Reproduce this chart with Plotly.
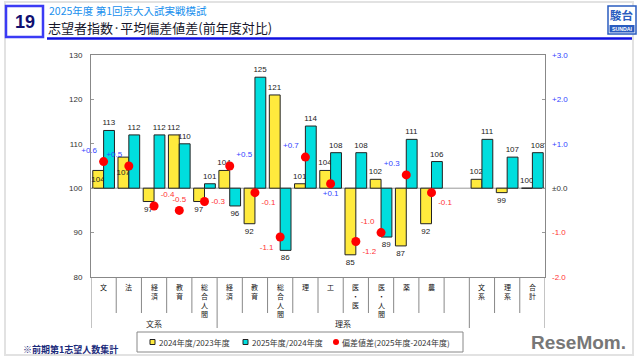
import plotly.graph_objects as go

# ---------------- data ----------------
groups = ["文系"] * 5 + ["理系"] * 10 + [""] * 3
labels = ["文", "法", "経済", "教育", "総合人間",
          "経済", "教育", "総合人間", "理", "工", "医・医", "医・人間", "薬", "農", "",
          "文系", "理系", "合計"]
idx_2024_2023 = [104, 107, 97, 112, 97, 104, 92, 121, 101, 104, 85, 102, 87, 92, None, 102, 99, 100]
idx_2025_2024 = [113, 112, 112, 110, 101, 96, 125, 86, 114, 108, 108, 89, 111, 106, None, 111, 107, 108]
dev_diff = [0.6, 0.5, -0.4, -0.5, -0.3, 0.5, -0.1, -1.1, 0.7, 0.1, -1.2, -1.0, 0.3, -0.1, None, None, None, None]
dev_label_pos = ["top left", "top left", "top right", "top center", "middle right",
                 "top right", "bottom right", "bottom left", "top left", "bottom center",
                 "bottom right", "top left", "top left", "bottom right", "top center",
                 "top center", "top center", "top center"]
yellow_label_pos = ["inside", "inside"] + ["outside"] * 16
left_ticks = [80, 90, 100, 110, 120, 130]
right_ticks = [-2, -1, 0, 1, 2, 3]
right_tick_text = ["-2.0", "-1.0", "±0.0", "+1.0", "+2.0", "+3.0"]

title_sub = "2025年度 第1回京大入試実戦模試"
title_main = "志望者指数·平均偏差値差(前年度対比)"
page_no = "19"
footnote = "※前期第1志望人数集計"
legend_names = ["2024年度/2023年度", "2025年度/2024年度", "偏差値差(2025年度-2024年度)"]

BASE = 100
keys = [f"{g}|{l}|{i}" for i, (g, l) in enumerate(zip(groups, labels))]

# ---------------- geometry helpers ----------------
W, H = 640, 364
L, R, T, B = 91, 545, 55, 277
def px(x):
    return (x - L) / (R - L)
def py(y):
    return (B - y) / (B - T)

FONT = "Liberation Sans, Noto Sans CJK JP, sans-serif"
JFONT = "Noto Sans CJK JP, sans-serif"
BLUE = "#3344ff"
RED = "#ff3333"
YELLOW = "#ffea3d"
CYAN = "#00dede"

fig = go.Figure()

def bar_vals(vals):
    return [None if v is None else v - BASE for v in vals]
def bar_txt(vals):
    return ["" if v is None else str(v) for v in vals]

fig.add_trace(go.Bar(
    x=keys, y=bar_vals(idx_2024_2023), base=BASE, name=legend_names[0],
    marker=dict(color=YELLOW, line=dict(color="#222", width=1)),
    text=bar_txt(idx_2024_2023), textposition=yellow_label_pos, constraintext="none",
    insidetextanchor="middle", textangle=0,
    textfont=dict(size=8, color="#222", family=FONT), cliponaxis=False,
))
fig.add_trace(go.Bar(
    x=keys, y=bar_vals(idx_2025_2024), base=BASE, name=legend_names[1],
    marker=dict(color=CYAN, line=dict(color="#222", width=1)),
    text=bar_txt(idx_2025_2024), textposition="outside", constraintext="none", textangle=0,
    textfont=dict(size=8, color="#222", family=FONT), cliponaxis=False,
))

dev_text = ["" if v is None else (f"+{v:.1f}" if v > 0 else f"-{abs(v):.1f}") for v in dev_diff]
dev_col = [BLUE if (v is not None and v > 0) else RED for v in dev_diff]
fig.add_trace(go.Scatter(
    x=keys, y=dev_diff, yaxis="y2", mode="markers+text", name=legend_names[2],
    marker=dict(color="#ff0000", size=9),
    text=dev_text, textposition=dev_label_pos,
    textfont=dict(size=8, color=dev_col, family=FONT), cliponaxis=False,
))

shapes = []
annotations = []

# 100 baseline
shapes.append(dict(type="line", xref="paper", yref="y", x0=0, x1=1, y0=BASE, y1=BASE,
                   line=dict(color="#999", width=1), layer="below"))

# category separators below axis
n = len(keys)
long_bounds = {-0.5, 4.5, 14.5, n - 0.5}
for i in range(n + 1):
    xb = i - 0.5
    yend = py(328) if xb in long_bounds else py(313)
    shapes.append(dict(type="line", xref="x", yref="paper", x0=xb, x1=xb, y0=0, y1=yend,
                       line=dict(color="#888", width=1)))

# vertical category labels (one character per line)
for i, lab in enumerate(labels):
    if not lab:
        continue
    annotations.append(dict(xref="x", yref="paper", x=keys[i], y=py(280.5),
                            text="<br>".join(lab), showarrow=False, yanchor="top", xanchor="center",
                            borderpad=0,
                            font=dict(size=7, color="#111", family=JFONT)))

# group labels
group_spans = {}
for i, g in enumerate(groups):
    if g:
        group_spans.setdefault(g, []).append(i)
for g, ids in group_spans.items():
    annotations.append(dict(xref="x", yref="paper", x=(ids[0] + ids[-1]) / 2, y=py(323),
                            text=g, showarrow=False, yanchor="middle", xanchor="center",
                            font=dict(size=8, color="#222", family=JFONT)))

# ---------------- manual legend ----------------
shapes.append(dict(type="rect", xref="paper", yref="paper", x0=px(137), x1=px(463), y0=py(332), y1=py(352),
                   line=dict(color="#888", width=1), fillcolor="white"))
leg_sym_x = [150, 243, 333]
leg_cols = [YELLOW, CYAN, "#ff0000"]
for k, (sx, col, name) in enumerate(zip(leg_sym_x, leg_cols, legend_names)):
    if k < 2:
        shapes.append(dict(type="rect", xref="paper", yref="paper",
                           x0=px(sx), x1=px(sx + 5), y0=py(339.5), y1=py(344.5),
                           line=dict(color="#222", width=1), fillcolor=col))
    else:
        shapes.append(dict(type="circle", xref="paper", yref="paper",
                           x0=px(sx), x1=px(sx + 6), y0=py(339), y1=py(345),
                           line=dict(color=col, width=0), fillcolor=col))
    annotations.append(dict(xref="paper", yref="paper", x=px(sx + 6.5), y=py(342),
                            xanchor="left", yanchor="middle", text=name, showarrow=False,
                            font=dict(size=8, color="#333", family=JFONT)))

# ---------------- header ----------------
shapes.append(dict(type="rect", xref="paper", yref="paper", x0=px(5), x1=px(633), y0=py(2), y1=py(355),
                   line=dict(color="#e2e2e2", width=2), layer="below"))
shapes.append(dict(type="rect", xref="paper", yref="paper", x0=px(6), x1=px(43), y0=py(6), y1=py(37),
                   line=dict(color="#3b3bf5", width=2.5), fillcolor="white"))
annotations.append(dict(xref="paper", yref="paper", x=px(24.5), y=py(22), text=f"<b>{page_no}</b>",
                        showarrow=False, xanchor="center", yanchor="middle",
                        font=dict(size=18, color="#101070", family=FONT)))
annotations.append(dict(xref="paper", yref="paper", x=px(47), y=py(10), xanchor="left", yanchor="middle",
                        text=title_sub, showarrow=False, font=dict(size=10.5, color="#2090ee", family=JFONT)))
annotations.append(dict(xref="paper", yref="paper", x=px(46), y=py(27.5), xanchor="left", yanchor="middle",
                        text=title_main, showarrow=False, font=dict(size=13, color="#15152a", family=JFONT)))
shapes.append(dict(type="line", xref="paper", yref="paper", x0=px(47), x1=px(632), y0=py(38.5), y1=py(38.5),
                   line=dict(color="#1010e0", width=2.5)))
# logo
shapes.append(dict(type="rect", xref="paper", yref="paper", x0=px(608), x1=px(636), y0=py(6), y1=py(34),
                   line=dict(color="#2a5cc0", width=1.5), fillcolor="white"))
shapes.append(dict(type="rect", xref="paper", yref="paper", x0=px(609.5), x1=px(634.5), y0=py(25), y1=py(32.5),
                   line=dict(width=0), fillcolor="#2a5cc0"))
annotations.append(dict(xref="paper", yref="paper", x=px(622), y=py(15.5), text="<b>駿台</b>",
                        showarrow=False, xanchor="center", yanchor="middle",
                        font=dict(size=11.5, color="#2a5cc0", family=JFONT)))
annotations.append(dict(xref="paper", yref="paper", x=px(622), y=py(28.8), text="<b>SUNDAI</b>",
                        showarrow=False, xanchor="center", yanchor="middle",
                        font=dict(size=5.2, color="white", family=FONT)))

# footnote & watermark
annotations.append(dict(xref="paper", yref="paper", x=px(21), y=py(349), xanchor="left", yanchor="middle",
                        text=f"<b>{footnote}</b>", showarrow=False,
                        font=dict(size=9, color="#1a2a7a", family=JFONT)))
annotations.append(dict(xref="paper", yref="paper", x=px(578), y=py(342), xanchor="center", yanchor="middle",
                        text="<b>ReseMom.</b>", showarrow=False,
                        font=dict(size=19, color="#777", family="Liberation Sans, sans-serif")))

fig.update_layout(
    width=W, height=H,
    margin=dict(l=L, r=W - R, t=T, b=H - B, pad=0, autoexpand=False),
    paper_bgcolor="white", plot_bgcolor="white",
    barmode="group", bargap=0.14, bargroupgap=0,
    font=dict(family=FONT, size=8, color="#333"),
    xaxis=dict(type="category", categoryorder="array", categoryarray=keys,
               showticklabels=False, ticks="", showgrid=False, zeroline=False,
               showline=True, linecolor="#888", linewidth=1, mirror=True,
               range=[-0.5, n - 0.5]),
    yaxis=dict(range=[80, 130], tickvals=left_ticks, showgrid=False, zeroline=False,
               showline=True, linecolor="#888", linewidth=1, mirror=True,
               ticks="inside", ticklen=3, tickcolor="#999",
               tickfont=dict(size=8, color="#333", family=FONT), ticklabelstandoff=6),
    yaxis2=dict(range=[-2, 3], overlaying="y", side="right", tickvals=right_ticks,
                ticktext=[f"<span style='color:{BLUE if v > 0 else (RED if v < 0 else '#333')}'>{t}</span>"
                          for v, t in zip(right_ticks, right_tick_text)],
                showgrid=False, zeroline=False, showline=False,
                ticks="inside", ticklen=3, tickcolor="#999",
                tickfont=dict(size=8, family=FONT), ticklabelstandoff=6),
    showlegend=False,
    shapes=shapes, annotations=annotations,
)

fig.write_html("out.html", config={"displayModeBar": False},
               post_script="document.body.style.margin='0';document.body.style.padding='0';")
